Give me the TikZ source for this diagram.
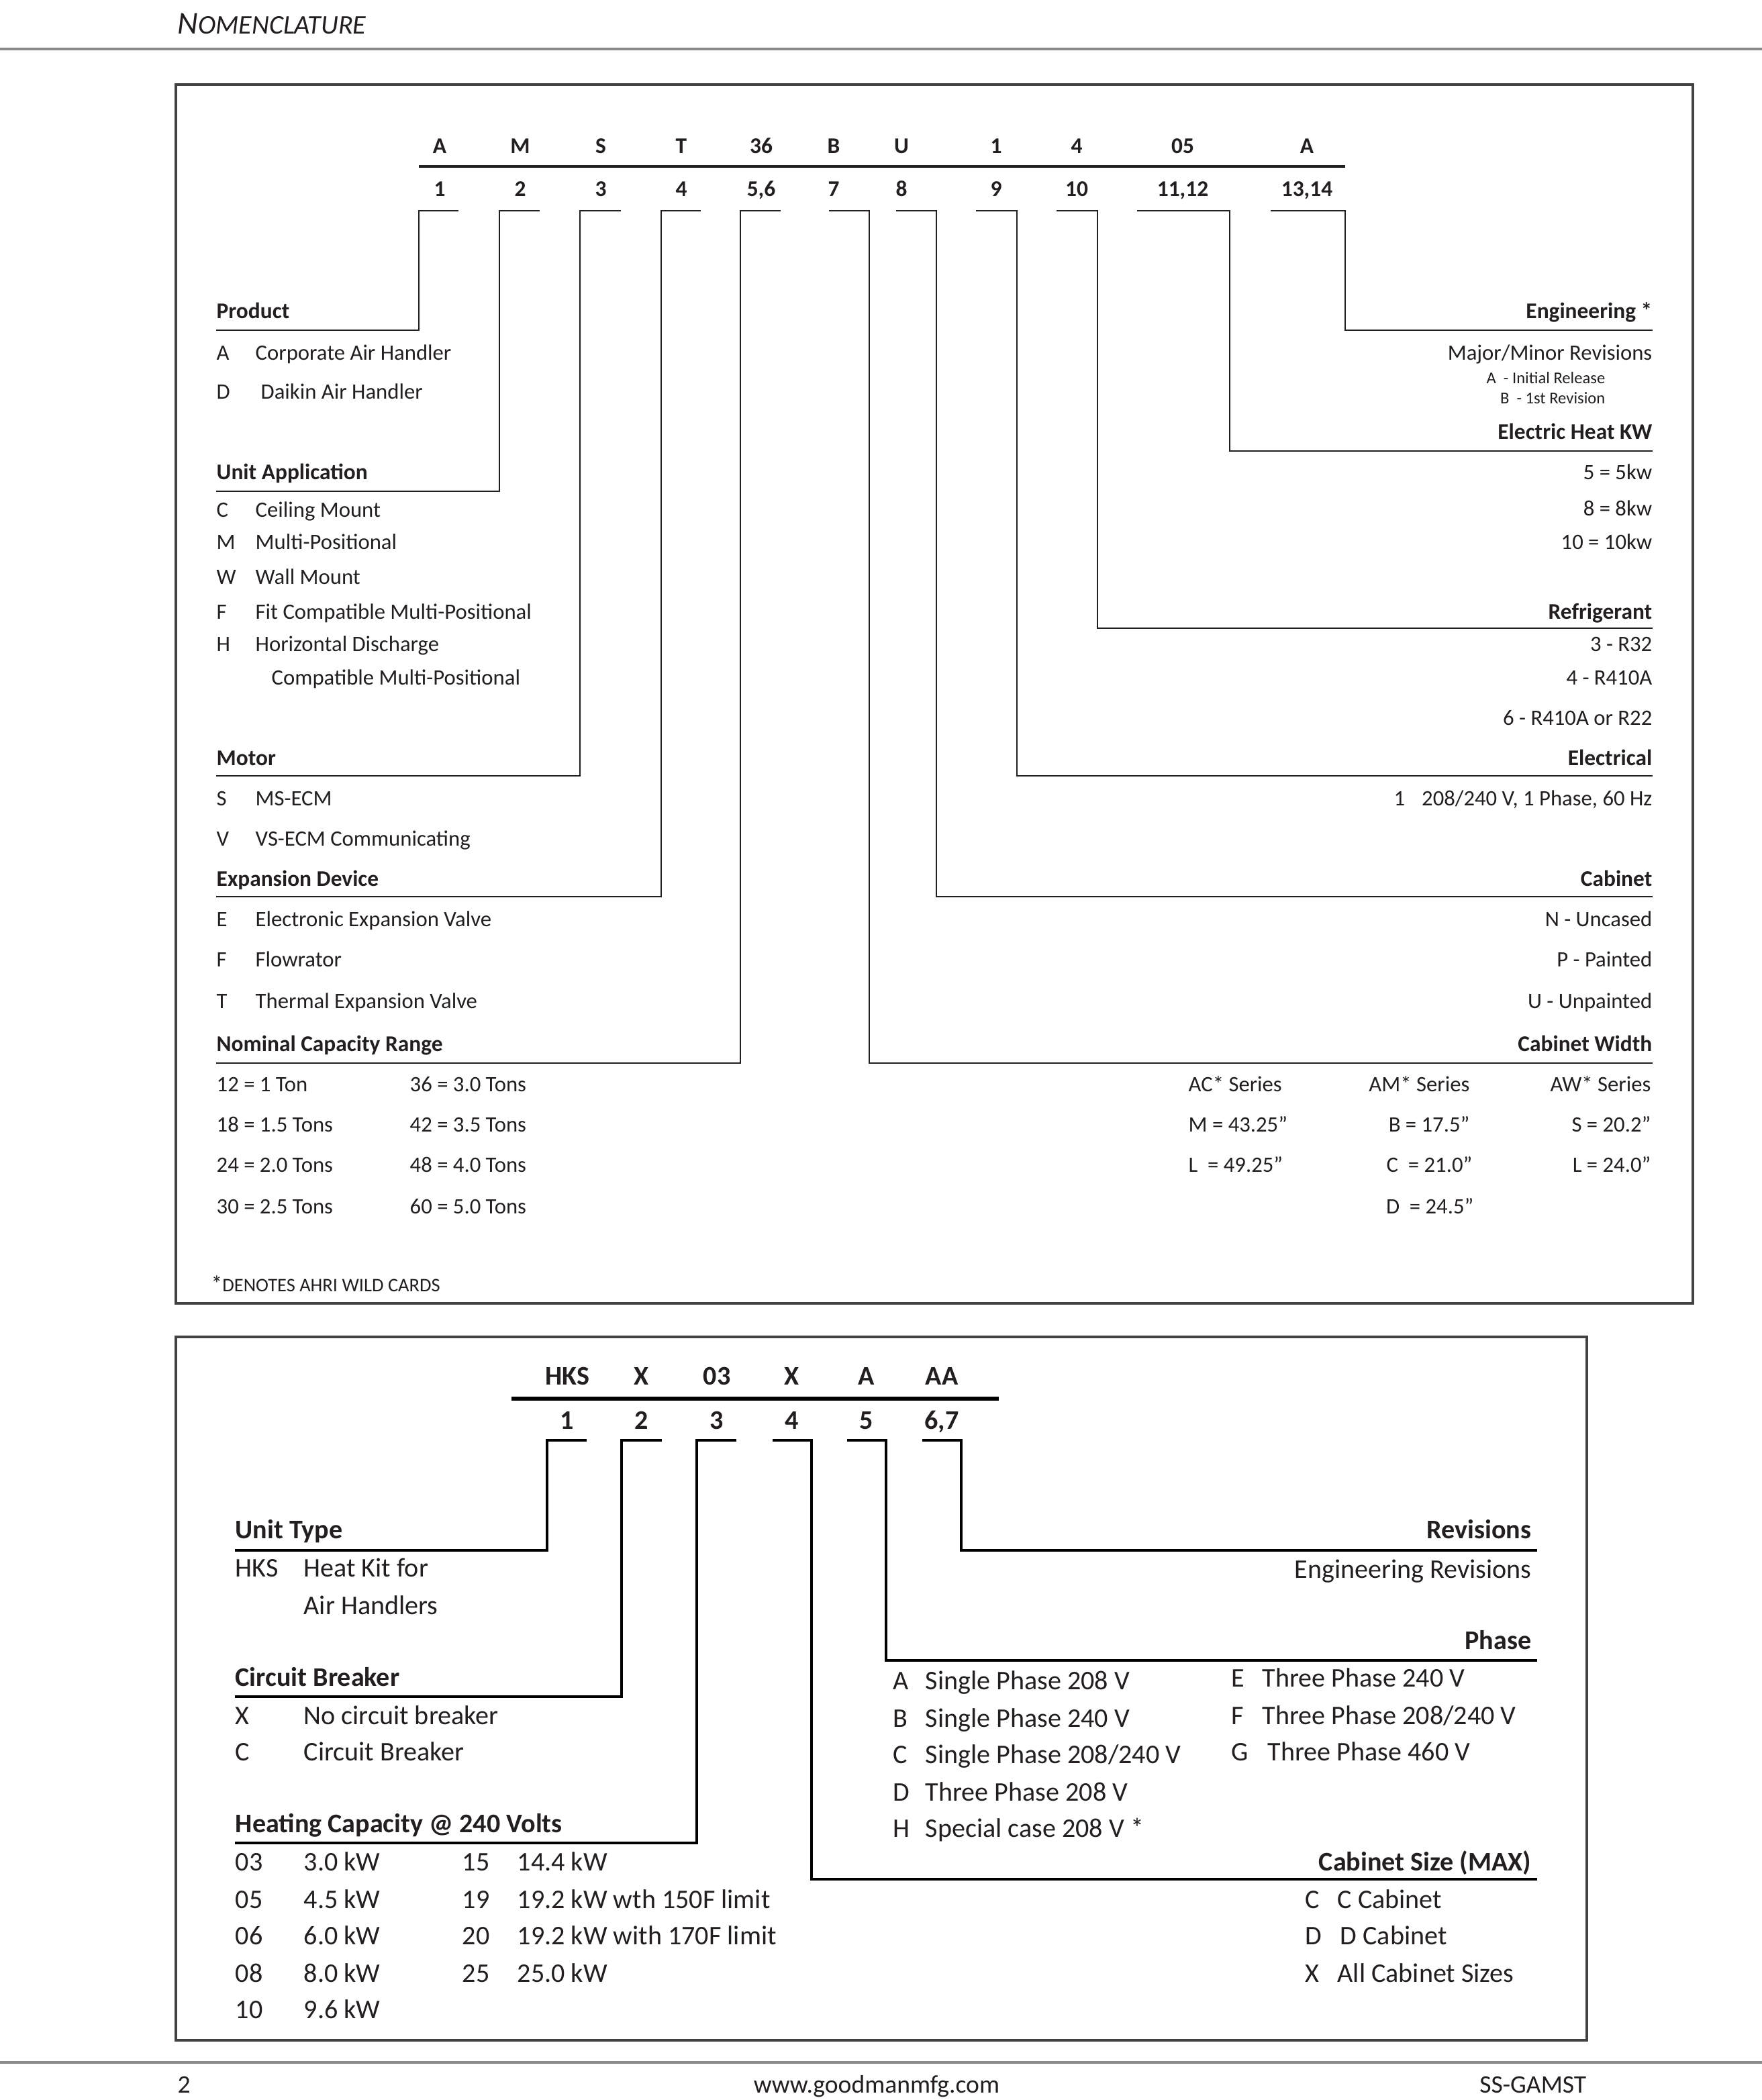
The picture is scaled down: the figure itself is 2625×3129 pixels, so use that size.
\documentclass[tikz,border=0pt]{standalone}
\usepackage{fontspec}
\setmainfont{Carlito}
\definecolor{ink}{HTML}{231F20}
\definecolor{rule}{HTML}{8A8A8A}
\tikzset{
 every node/.style={inner sep=0pt, text=ink},
 tl/.style={anchor=base west, font=\fontsize{9.3}{11}\selectfont},
 tr/.style={anchor=base east, font=\fontsize{9.3}{11}\selectfont},
 hl/.style={anchor=base west, font=\bfseries\fontsize{9.5}{11}\selectfont},
 hr/.style={anchor=base east, font=\bfseries\fontsize{9.5}{11}\selectfont},
 code/.style={anchor=base, font=\bfseries\fontsize{9.5}{11}\selectfont},
 tiny/.style={anchor=base east, font=\fontsize{7}{8}\selectfont},
 bl/.style={anchor=base west, font=\fontsize{11.4}{13}\selectfont},
 br/.style={anchor=base east, font=\fontsize{11.4}{13}\selectfont},
 bhl/.style={anchor=base west, font=\bfseries\fontsize{11.4}{13}\selectfont},
 bhr/.style={anchor=base east, font=\bfseries\fontsize{11.4}{13}\selectfont},
 bcode/.style={anchor=base, font=\bfseries\fontsize{11.4}{13}\selectfont},
 lnk/.style={draw=ink, line width=0.7pt},
 blnk/.style={draw=black, line width=1.3pt},
 boxln/.style={draw=ink!85, line width=0.9pt},
}
\begin{document}
\begin{tikzpicture}[x=0.01cm,y=-0.01cm]
\useasboundingbox (0,0) rectangle (2625,3129);
% ---------- page header / footer ----------
\node[anchor=base west, font=\itshape\fontsize{13.5}{15}\selectfont] (hdr) at (264,50) {N\fontsize{11.4}{13}\selectfont OMENCLATURE};
\draw[draw=rule, line width=1.2pt] (0,73) -- (2625,73);
\draw[draw=rule, line width=1.2pt] (0,3073) -- (2625,3073);
\node[anchor=base west, font=\fontsize{10.7}{12}\selectfont] (pg) at (264,3118) {2};
\node[anchor=base, font=\fontsize{10.7}{12}\selectfont] (web) at (1306,3118) {www.goodmanmfg.com};
\node[anchor=base east, font=\fontsize{10.7}{12}\selectfont] (doc) at (2364,3118) {SS-GAMST};
% ---------- top box ----------
\draw[boxln] (262,126) rectangle (2522,1942);
\foreach \n/\x/\c/\d in {a1/655/A/1, a2/775/M/2, a3/895/S/3, a4/1015/T/4, a5/1134/36/{5,6}, a7/1242/B/7, a8/1343/U/8, a9/1484/1/9, a10/1604/4/10, a11/1762/05/{11,12}, a13/1947/A/{13,14}}{
  \node[code] (\n c) at (\x,228) {\c};
  \node[code] (\n n) at (\x,292) {\d};
}
\draw[draw=ink, line width=1.3pt] (624,248) -- (2004,248);
% brackets: tick start / vertical x / line y / line end x
\foreach \s/\v/\ly/\ex in {683/624/492/322, 804/744/732/322, 925/864/1156/322, 1044/985/1336/322, 1163/1103/1584/322,
   1235/1295/1584/2462, 1335/1395/1336/2462, 1454/1515/1156/2462, 1574/1635/936/2462, 1694/1832/672/2462, 1893/2004/492/2462}{
  \draw[lnk] (\s,314) -- (\v,314) -- (\v,\ly) -- (\ex,\ly);
}
% left column
\node[hl] (pr) at (322,474) {Product};
\node[tl] (prA) at (322,536) {A};      \node[tl] (prAd) at (380,536) {Corporate Air Handler};
\node[tl] (prD) at (322,594) {D};      \node[tl] (prDd) at (388,594) {Daikin Air Handler};
\node[hl] (ua) at (322,714) {Unit Application};
\node[tl] (uaC) at (322,770) {C};      \node[tl] (uaCd) at (380,770) {Ceiling Mount};
\node[tl] (uaM) at (322,818) {M};      \node[tl] (uaMd) at (380,818) {Multi-Positional};
\node[tl] (uaW) at (322,870) {W};      \node[tl] (uaWd) at (380,870) {Wall Mount};
\node[tl] (uaF) at (322,922) {F};      \node[tl] (uaFd) at (380,922) {Fit Compatible Multi-Positional};
\node[tl] (uaH) at (322,970) {H};      \node[tl] (uaHd) at (380,970) {Horizontal Discharge};
\node[tl] (uaH2) at (404,1020) {Compatible Multi-Positional};
\node[hl] (mo) at (322,1140) {Motor};
\node[tl] (moS) at (322,1200) {S};     \node[tl] (moSd) at (380,1200) {MS-ECM};
\node[tl] (moV) at (322,1260) {V};     \node[tl] (moVd) at (380,1260) {VS-ECM Communicating};
\node[hl] (ex) at (322,1320) {Expansion Device};
\node[tl] (exE) at (322,1380) {E};     \node[tl] (exEd) at (380,1380) {Electronic Expansion Valve};
\node[tl] (exF) at (322,1440) {F};     \node[tl] (exFd) at (380,1440) {Flowrator};
\node[tl] (exT) at (322,1502) {T};     \node[tl] (exTd) at (380,1502) {Thermal Expansion Valve};
\node[hl] (nc) at (322,1566) {Nominal Capacity Range};
\node[tl] (nc1) at (322,1626) {12 = 1 Ton};     \node[tl] (nc5) at (610,1626) {36 = 3.0 Tons};
\node[tl] (nc2) at (322,1686) {18 = 1.5 Tons};  \node[tl] (nc6) at (610,1686) {42 = 3.5 Tons};
\node[tl] (nc3) at (322,1746) {24 = 2.0 Tons};  \node[tl] (nc7) at (610,1746) {48 = 4.0 Tons};
\node[tl] (nc4) at (322,1808) {30 = 2.5 Tons};  \node[tl] (nc8) at (610,1808) {60 = 5.0 Tons};
\node[anchor=base west] (fn) at (314,1924) {\fontsize{9.5}{10}\selectfont *\fontsize{8.1}{9}\selectfont DENOTES AHRI WILD CARDS};
% right column
\node[hr] (en) at (2462,474) {Engineering *};
\node[tr] (en1) at (2462,536) {Major/Minor Revisions};
\node[tiny] (en2) at (2392,571) {A\ \ - Initial Release};
\node[tiny] (en3) at (2392,601) {B\ \ - 1st Revision};
\node[hr] (eh) at (2462,654) {Electric Heat KW};
\node[tr] (eh1) at (2462,714) {5 = 5kw};
\node[tr] (eh2) at (2462,768) {8 = 8kw};
\node[tr] (eh3) at (2462,818) {10 = 10kw};
\node[hr] (rf) at (2462,922) {Refrigerant};
\node[tr] (rf1) at (2462,970) {3 - R32};
\node[tr] (rf2) at (2462,1020) {4 - R410A};
\node[tr] (rf3) at (2462,1080) {6 - R410A or R22};
\node[hr] (el) at (2462,1140) {Electrical};
\node[tl] (el1) at (2076,1200) {1};
\node[tr] (el1d) at (2462,1200) {208/240 V, 1 Phase, 60 Hz};
\node[hr] (cb) at (2462,1320) {Cabinet};
\node[tr] (cb1) at (2462,1380) {N - Uncased};
\node[tr] (cb2) at (2462,1440) {P - Painted};
\node[tr] (cb3) at (2462,1502) {U - Unpainted};
\node[hr] (cw) at (2462,1566) {Cabinet Width};
\node[tl] (cwa) at (1770,1626) {AC* Series};
\node[tr] (cwb) at (2190,1626) {AM* Series};
\node[tr] (cwc) at (2460,1626) {AW* Series};
\node[tl] (cwa1) at (1770,1686) {M = 43.25”};
\node[tl] (cwa2) at (1770,1746) {L\ \ = 49.25”};
\node[tr] (cwb1) at (2190,1686) {B = 17.5”};
\node[tr] (cwb2) at (2194,1746) {C\ \ = 21.0”};
\node[tr] (cwb3) at (2196,1808) {D\ \ = 24.5”};
\node[tr] (cwc1) at (2460,1686) {S = 20.2”};
\node[tr] (cwc2) at (2460,1746) {L = 24.0”};
% ---------- bottom box ----------
\draw[boxln] (262,1992) rectangle (2364,3040);
\foreach \n/\x/\c/\d in {b1/845/HKS/1, b2/956/X/2, b3/1068/03/3, b4/1180/X/4, b5/1291/A/5, b6/1403/AA/{6,7}}{
  \node[bcode] (\n c) at (\x,2063) {\c};
  \node[bcode] (\n n) at (\x,2129) {\d};
}
\draw[draw=black, line width=1.8pt] (762,2084) -- (1488,2084);
\foreach \s/\v/\ly/\ex in {874/815/2310/350, 986/926/2528/350, 1097/1038/2746/350,
   1151/1209/2800/2290, 1262/1320/2474/2290, 1374/1432/2310/2290}{
  \draw[blnk] (\s,2146) -- (\v,2146) -- (\v,\ly) -- (\ex,\ly);
}
\node[bhl] (ut) at (350,2292) {Unit Type};
\node[bl] (utH) at (350,2349) {HKS};   \node[bl] (utHd) at (452,2349) {Heat Kit for};
\node[bl] (utH2) at (452,2405) {Air Handlers};
\node[bhl] (cbk) at (350,2512) {Circuit Breaker};
\node[bl] (cbX) at (350,2569) {X};     \node[bl] (cbXd) at (452,2569) {No circuit breaker};
\node[bl] (cbC) at (350,2623) {C};     \node[bl] (cbCd) at (452,2623) {Circuit Breaker};
\node[bhl] (hc) at (350,2730) {Heating Capacity @ 240 Volts};
\foreach \n/\y/\a/\b in {h1/2787/03/3.0 kW, h2/2843/05/4.5 kW, h3/2897/06/6.0 kW, h4/2953/08/8.0 kW, h5/3007/10/9.6 kW}{
  \node[bl] (\n a) at (350,\y) {\a};
  \node[bl] (\n b) at (452,\y) {\b};
}
\foreach \n/\y/\a/\b in {k1/2787/15/14.4 kW, k2/2843/19/19.2 kW wth 150F limit, k3/2897/20/19.2 kW with 170F limit, k4/2953/25/25.0 kW}{
  \node[bl] (\n a) at (688,\y) {\a};
  \node[bl] (\n b) at (770,\y) {\b};
}
\node[bhr] (rv) at (2282,2292) {Revisions};
\node[br] (rv1) at (2282,2351) {Engineering Revisions};
\node[bhr] (ph) at (2282,2457) {Phase};
\foreach \n/\y/\a/\b in {p1/2517/A/{Single Phase 208 V}, p2/2573/B/{Single Phase 240 V}, p3/2627/C/{Single Phase 208/240 V}, p4/2683/D/{Three Phase 208 V}, p5/2737/H/{Special case 208 V *}}{
  \node[bl] (\n a) at (1330,\y) {\a};
  \node[bl] (\n b) at (1378,\y) {\b};
}
\node[bl] (q1a) at (1834,2513) {E};  \node[bl] (q1b) at (1880,2513) {Three Phase 240 V};
\node[bl] (q2a) at (1834,2569) {F};  \node[bl] (q2b) at (1880,2569) {Three Phase 208/240 V};
\node[bl] (q3a) at (1834,2623) {G};  \node[bl] (q3b) at (1888,2623) {Three Phase 460 V};
\node[bhr] (cs) at (2282,2787) {Cabinet Size (MAX)};
\node[bl] (cs1a) at (1944,2843) {C};  \node[bl] (cs1b) at (1992,2843) {C Cabinet};
\node[bl] (cs2a) at (1944,2897) {D};  \node[bl] (cs2b) at (1996,2897) {D Cabinet};
\node[bl] (cs3a) at (1944,2953) {X};  \node[bl] (cs3b) at (1992,2953) {All Cabinet Sizes};
\end{tikzpicture}
\end{document}
